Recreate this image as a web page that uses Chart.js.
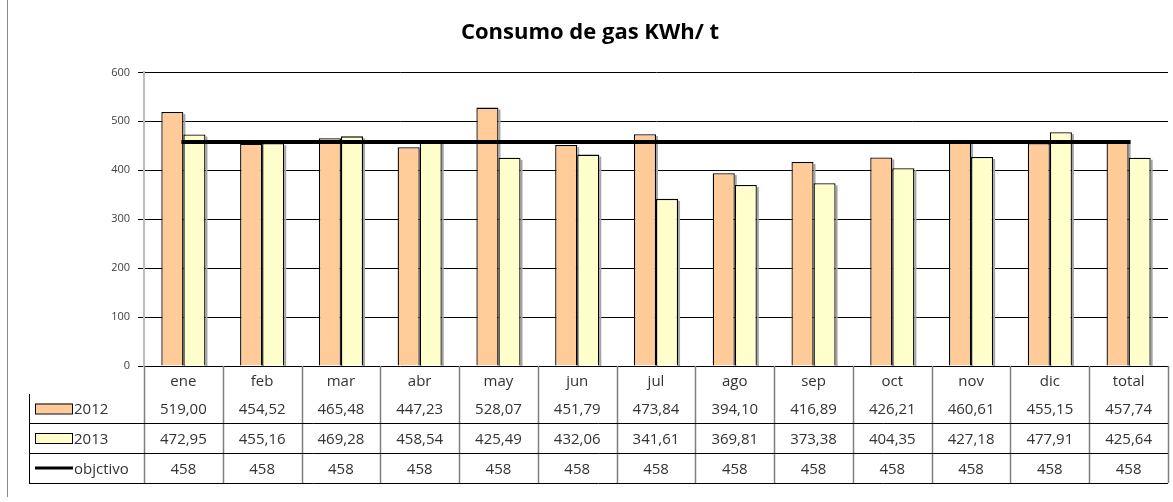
<!DOCTYPE html>
<html>
<head>
<meta charset="utf-8">
<script src="https://cdn.jsdelivr.net/npm/chart.js@4.4.1/dist/chart.umd.min.js"></script>
<style>
  body { margin: 0; background: #fff; }
  #wrap { position: relative; width: 1173px; height: 502px; }
  #tabla div { position: absolute; font-family: "Open Sans", sans-serif; font-size: 15px; color: #333; white-space: nowrap; }
</style>
</head>
<body>
<div id="wrap">
  <canvas id="myChart" width="1173" height="502"></canvas>
  <div id="tabla"></div>
</div>
<script>
// datos
const meses = ['ene', 'feb', 'mar', 'abr', 'may', 'jun', 'jul', 'ago', 'sep', 'oct', 'nov', 'dic', 'total'];
const datos2012 = [519.00, 454.52, 465.48, 447.23, 528.07, 451.79, 473.84, 394.10, 416.89, 426.21, 460.61, 455.15, 457.74];
const datos2013 = [472.95, 455.16, 469.28, 458.54, 425.49, 432.06, 341.61, 369.81, 373.38, 404.35, 427.18, 477.91, 425.64];
const objetivo = [458, 458, 458, 458, 458, 458, 458, 458, 458, 458, 458, 458, 458];
const yTicks = [0, 100, 200, 300, 400, 500, 600];

const color2012 = '#FFCC99';
const color2013 = '#FFFFCC';

// alturas de filas de la tabla de datos
const filas = [28, 29, 30, 30];
const tablaIzq = 29;

const formato = v => v.toFixed(2).replace('.', ',');

// sombra de las barras, lineas de la tabla y leyenda
const tablaPlugin = {
  id: 'tablaPlugin',
  beforeDatasetsDraw(chart) {
    const ctx = chart.ctx;
    const ca = chart.chartArea;
    ctx.save();
    ctx.fillStyle = '#a5a5a5';
    [1, 2].forEach(d => {
      chart.getDatasetMeta(d).data.forEach(bar => {
        ctx.fillRect(bar.x + bar.width / 2, bar.y + 2, 2, ca.bottom - bar.y - 2);
      });
    });
    ctx.restore();
  },
  afterDraw(chart) {
    const ctx = chart.ctx;
    const ca = chart.chartArea;
    const paso = (ca.right - ca.left) / meses.length;
    const ys = [ca.bottom];
    filas.forEach(h => ys.push(ys[ys.length - 1] + h));
    ctx.save();

    // marco izquierdo
    ctx.strokeStyle = '#8a8a8a';
    ctx.lineWidth = 1;
    ctx.beginPath();
    ctx.moveTo(7.5, 0);
    ctx.lineTo(7.5, 497);
    ctx.stroke();

    // separadores de columnas
    ctx.strokeStyle = '#7f7f7f';
    ctx.lineWidth = 1.5;
    for (let i = 0; i <= meses.length; i++) {
      const x = Math.round(ca.left + i * paso) + 0.5;
      ctx.beginPath();
      ctx.moveTo(x, ca.bottom);
      ctx.lineTo(x, ys[4]);
      ctx.stroke();
    }

    // lineas horizontales
    ctx.strokeStyle = '#000';
    ctx.lineWidth = 1;
    [2, 3, 4].forEach(k => {
      ctx.beginPath();
      ctx.moveTo(tablaIzq, ys[k] + 0.5);
      ctx.lineTo(ca.right, ys[k] + 0.5);
      ctx.stroke();
    });
    ctx.beginPath();
    ctx.moveTo(tablaIzq + 0.5, ys[1]);
    ctx.lineTo(tablaIzq + 0.5, ys[4]);
    ctx.stroke();

    // claves de la leyenda
    const cx = 35, cw = 37;
    [[color2012, 1], [color2013, 2]].forEach(([c, k]) => {
      const yc = (ys[k] + ys[k + 1]) / 2;
      ctx.fillStyle = c;
      ctx.fillRect(cx, yc - 5, cw, 10);
      ctx.strokeStyle = '#000';
      ctx.strokeRect(cx + 0.5, yc - 5 + 0.5, cw, 10);
    });
    const yl = (ys[3] + ys[4]) / 2;
    ctx.strokeStyle = '#000';
    ctx.lineWidth = 3;
    ctx.beginPath();
    ctx.moveTo(cx, yl);
    ctx.lineTo(cx + cw + 1, yl);
    ctx.stroke();
    ctx.restore();
  }
};

const chart = new Chart(document.getElementById('myChart'), {
  data: {
    labels: meses,
    datasets: [
      {
        type: 'line',
        label: 'objctivo',
        data: objetivo,
        borderColor: '#000',
        borderWidth: 4,
        borderCapStyle: 'square',
        pointRadius: 0,
        order: 0
      },
      {
        type: 'bar',
        label: '2012',
        data: datos2012,
        backgroundColor: color2012,
        borderColor: '#000',
        borderWidth: 1.3,
        order: 1
      },
      {
        type: 'bar',
        label: '2013',
        data: datos2013,
        backgroundColor: color2013,
        borderColor: '#000',
        borderWidth: 1.3,
        order: 1
      }
    ]
  },
  options: {
    responsive: false,
    animation: false,
    datasets: { bar: { categoryPercentage: 0.56, barPercentage: 1 } },
    layout: { padding: { left: 12, right: 5, top: 0, bottom: 136 } },
    plugins: {
      legend: { display: false },
      tooltip: { enabled: false },
      title: {
        display: true,
        text: 'Consumo de gas KWh/ t',
        color: '#000',
        font: { family: '"Open Sans", sans-serif', size: 22, weight: 'bold' },
        padding: { top: 20, bottom: 26 }
      }
    },
    scales: {
      x: { display: false, offset: true },
      y: {
        min: 0,
        max: 600,
        afterBuildTicks: s => { s.ticks = yTicks.map(v => ({ value: v })); },
        afterFit: s => { s.width = 132; },
        grid: { color: '#000', lineWidth: 1, tickLength: 6, tickColor: '#000' },
        border: { color: '#bdbdbd', width: 2 },
        ticks: { color: '#404040', padding: 8, font: { family: '"Open Sans", sans-serif', size: 11 } }
      }
    }
  },
  plugins: [tablaPlugin]
});

// textos de la tabla de datos
function llenarTabla() {
  const ca = chart.chartArea;
  const paso = (ca.right - ca.left) / meses.length;
  const ys = [ca.bottom];
  filas.forEach(h => ys.push(ys[ys.length - 1] + h));
  const tabla = document.getElementById('tabla');
  let html = '';
  const celda = (texto, x, w, k, align) =>
    `<div style="left:${x}px;top:${ys[k]}px;width:${w}px;height:${filas[k]}px;line-height:${filas[k]}px;text-align:${align}">${texto}</div>`;
  const filasTexto = [meses, datos2012.map(formato), datos2013.map(formato), objetivo.map(String)];
  filasTexto.forEach((fila, k) => {
    fila.forEach((t, i) => {
      html += celda(t, ca.left + i * paso, paso, k, 'center');
    });
  });
  html += celda('2012', 74, 70, 1, 'left');
  html += celda('2013', 74, 70, 2, 'left');
  html += celda('objctivo', 74, 70, 3, 'left');
  tabla.innerHTML = html;
}
llenarTabla();
</script>
</body>
</html>
